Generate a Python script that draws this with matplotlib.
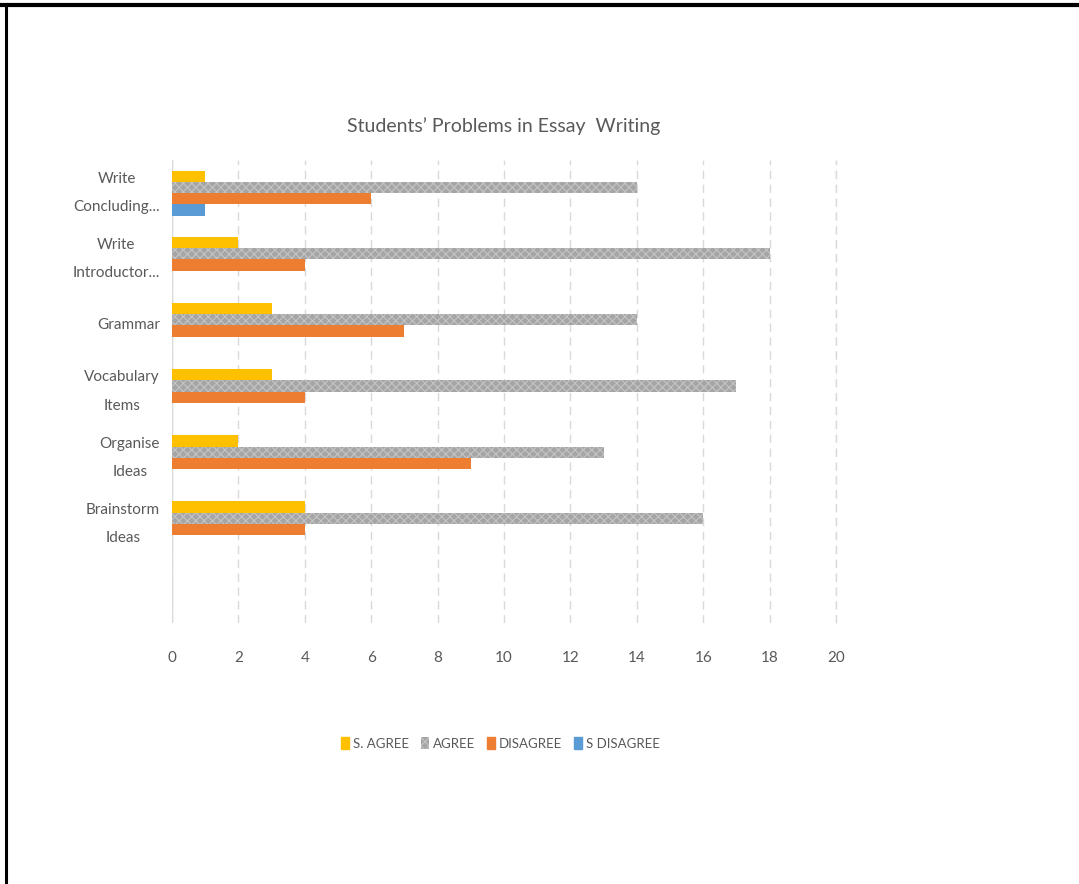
import numpy as np
import matplotlib
matplotlib.use("Agg")
import matplotlib.pyplot as plt
import matplotlib.transforms as mtransforms
from matplotlib.lines import Line2D

# Data (top to bottom as shown)
categories = ["Write\nConcluding...", "Write\nIntroductor...", "Grammar",
              "Vocabulary\nItems", "Organise\nIdeas", "Brainstorm\nIdeas", ""]
s_agree = [1, 2, 3, 3, 2, 4, 0]
agree = [14, 18, 14, 17, 13, 16, 0]
disagree = [6, 4, 7, 4, 9, 4, 0]
s_disagree = [1, 0, 0, 0, 0, 0, 0]
series_names = ["S. AGREE", "AGREE", "DISAGREE", "S DISAGREE"]
colors = ["#FFC000", "#A5A5A5", "#ED7D31", "#5B9BD5"]

plt.rcParams['font.family'] = ['Lato', 'DejaVu Sans']
plt.rcParams['hatch.linewidth'] = 0.8

fig = plt.figure(figsize=(10.79, 8.84), dpi=100)
ax = fig.add_axes([0.1594, 0.295, 0.6154, 0.524])

y = np.arange(len(categories))
h = 0.17
series = [s_agree, agree, disagree, s_disagree]
for i, (vals, name, c) in enumerate(zip(series, series_names, colors)):
    offs = (i - 1.5) * h
    if name == "AGREE":
        ax.barh(y + offs, vals, height=h, color=c, label=name,
                hatch="xxxx", edgecolor="#C4C4C4", linewidth=0)
    else:
        ax.barh(y + offs, vals, height=h, color=c, label=name, linewidth=0)

ax.set_ylim(len(categories) - 0.5, -0.5)
ax.set_xlim(0, 20)
ax.set_xticks(range(0, 21, 2))
ax.set_yticks(y)
ax.set_yticklabels([])

# category labels drawn as text so two-line labels centre on their group
trans = mtransforms.blended_transform_factory(ax.transAxes, ax.transData)
for yi, cat in zip(y, categories):
    ax.text(-0.018, yi, cat, transform=trans, ha="right", va="center",
            multialignment="center", fontsize=11, color="#595959",
            linespacing=2.3)

ax.tick_params(axis='x', labelsize=11, colors="#595959", length=0, pad=20)
ax.tick_params(axis='y', length=0)
ax.grid(axis='x', color="#D9D9D9", linestyle=(0, (6, 4)), linewidth=1)
ax.set_axisbelow(True)
for sp in ax.spines.values():
    sp.set_visible(False)
ax.axvline(0, color="#D9D9D9", linewidth=1, zorder=0)
ax.axvline(20, color="#D9D9D9", linestyle=(0, (6, 4)), linewidth=1,
           zorder=0, clip_on=False)

ax.set_title("Students\u2019 Problems in Essay  Writing", fontsize=14,
             color="#595959", pad=20)

handles = [plt.Rectangle((0, 0), 1, 1, color=c) for c in colors]
handles[1] = plt.Rectangle((0, 0), 1, 1, facecolor=colors[1], hatch="xxxx",
                           edgecolor="#C4C4C4", linewidth=0)
fig.legend(handles, series_names, loc="center", bbox_to_anchor=(0.464, 0.159),
           ncol=4, frameon=False, fontsize=9.5, labelcolor="#595959",
           handlelength=0.6, handleheight=1.0, handletextpad=0.3,
           columnspacing=0.9)

# page border (top and left)
fig.add_artist(Line2D([0, 1], [0.9945, 0.9945], color="black", linewidth=3,
                      transform=fig.transFigure))
fig.add_artist(Line2D([0.0055, 0.0055], [0, 0.996], color="black",
                      linewidth=2.2, transform=fig.transFigure))

fig.savefig("out.png", dpi=100)
